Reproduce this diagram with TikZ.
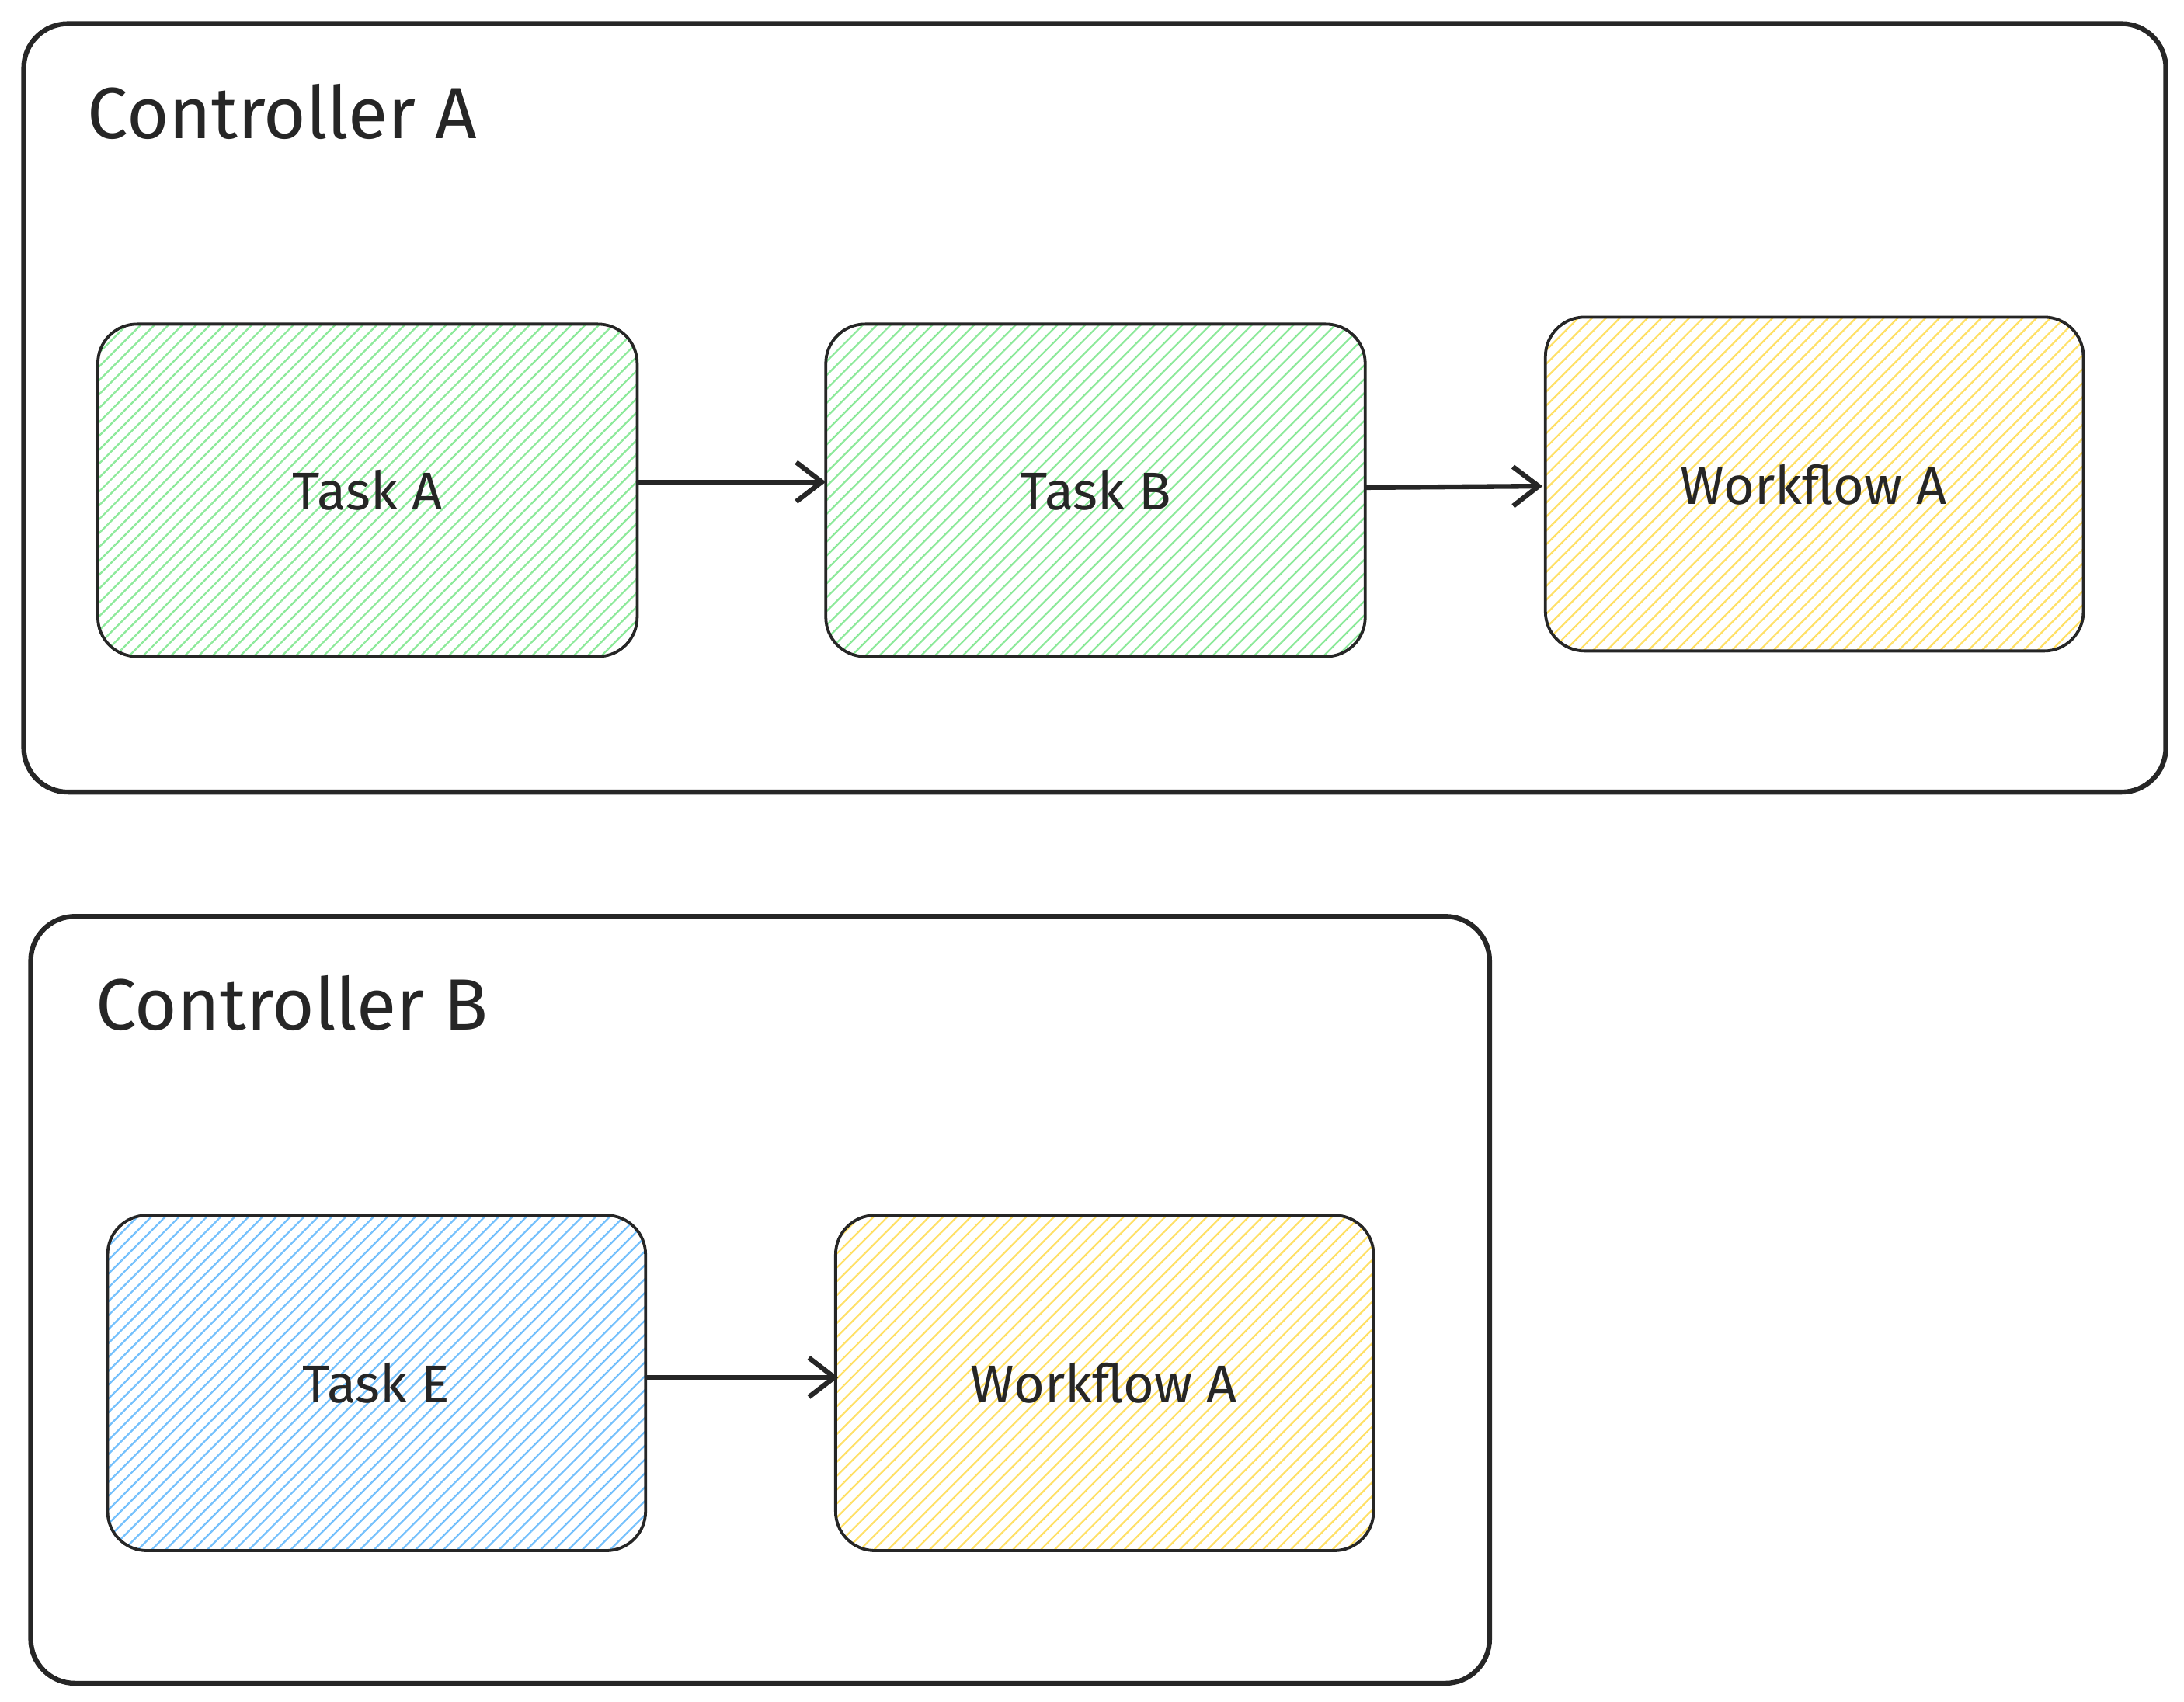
\documentclass[tikz,border=0pt]{standalone}
\usepackage{fontspec}
\setmainfont{Fira Sans}
\usetikzlibrary{patterns.meta,arrows.meta}
\definecolor{gr}{HTML}{8CE99A}
\definecolor{ye}{HTML}{FFE066}
\definecolor{bl}{HTML}{74C0FC}
\begin{document}
\begin{tikzpicture}[x=0.05cm,y=-0.05cm,
 ctrl/.style={draw=black!85,line width=5pt,rounded corners=45},
 box/.style={draw=black!85,line width=3pt,rounded corners=40},
 hat/.style={pattern={Lines[angle=45,distance=10pt,line width=1.8pt]},pattern color=#1},
 lbl/.style={font=\fontsize{74}{86}\selectfont,anchor=west,text=black!85},
 tl/.style={font=\fontsize{54}{64}\selectfont,text=black!85},
 arr/.style={draw=black!85,line width=5pt,-{Straight Barb[length=26pt,width=40pt,line width=5pt]}}]
\useasboundingbox (0,0) rectangle (1563,1218);
\draw[ctrl] (17,17) rectangle (1550,567);
\node[lbl] (ca) at (60,80) {Controller A};
\draw[ctrl] (22,656) rectangle (1066,1205);
\node[lbl] (cb) at (66,718) {Controller B};
\draw[box,hat=gr] (70,232) rectangle (456,470); \node[tl] (ta) at (263,351) {Task A};
\draw[box,hat=gr] (591,232) rectangle (977,470); \node[tl] (tb) at (784,351) {Task B};
\draw[box,hat=ye] (1106,227) rectangle (1491,466); \node[tl] (wa) at (1298,347) {Workflow A};
\draw[box,hat=bl] (77,870) rectangle (462,1110); \node[tl] (te) at (269,990) {Task E};
\draw[box,hat=ye] (598,870) rectangle (983,1110); \node[tl] (wb) at (790,990) {Workflow A};
\coordinate (a1) at (456,345); \coordinate (a2) at (591,345);
\coordinate (b1) at (977,349); \coordinate (b2) at (1104,348);
\coordinate (e1) at (462,986); \coordinate (e2) at (600,986);
\draw[arr] (a1) -- (a2);
\draw[arr] (b1) -- (b2);
\draw[arr] (e1) -- (e2);
\end{tikzpicture}
\end{document}
